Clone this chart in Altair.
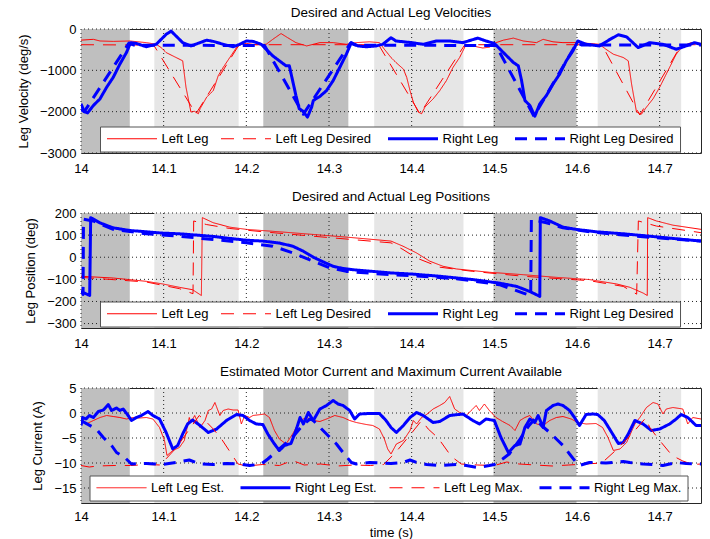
import altair as alt
import pandas as pd

FONT = "Liberation Sans"

# ---------------- axes / bands ----------------
X_TICKS = [14.0, 14.1, 14.2, 14.3, 14.4, 14.5, 14.6, 14.7]
VEL_TICKS = [-3000, -2000, -1000, 0]
POS_TICKS = [-300, -200, -100, 0, 100, 200]
CUR_TICKS = [-15, -10, -5, 0, 5]

BAND_START = [14.0, 14.0887, 14.2205, 14.3547, 14.499, 14.625]
BAND_END = [14.059, 14.1907, 14.3234, 14.4627, 14.5994, 14.726]
BAND_KIND = ["dark", "light", "dark", "light", "dark", "light"]

# ---------------- panel 1: velocities (deg/s) ----------------
VEL_LEFT = [(14.000, -270), (14.015, -250), (14.023, -290), (14.039, -300), (14.059, -290), (14.079, -330),
            (14.091, -370), (14.097, -450), (14.103, -570), (14.115, -690), (14.123, -770), (14.125, -1090),
            (14.127, -1410), (14.133, -2010), (14.137, -1990), (14.142, -2050), (14.144, -1930), (14.152, -1650),
            (14.160, -1490), (14.166, -1130), (14.172, -930), (14.180, -690), (14.188, -450), (14.194, -370),
            (14.200, -350), (14.212, -380), (14.224, -370), (14.232, -250), (14.242, -110), (14.250, -210),
            (14.260, -330), (14.273, -410), (14.289, -330), (14.305, -330), (14.321, -370), (14.333, -330),
            (14.349, -310), (14.361, -330), (14.367, -490), (14.375, -690), (14.381, -810), (14.390, -970),
            (14.394, -1170), (14.398, -1490), (14.402, -1770), (14.408, -2010), (14.412, -2050), (14.416, -1890),
            (14.426, -1690), (14.434, -1490), (14.442, -1250), (14.450, -930), (14.458, -690), (14.466, -370),
            (14.474, -410), (14.486, -460), (14.494, -440), (14.502, -330), (14.511, -270), (14.523, -220),
            (14.535, -290), (14.551, -330), (14.559, -250), (14.571, -310), (14.583, -330), (14.599, -330),
            (14.615, -350), (14.627, -370), (14.635, -490), (14.644, -610), (14.656, -690), (14.662, -770),
            (14.666, -1330), (14.672, -2010), (14.678, -2060), (14.684, -1890), (14.692, -1690), (14.700, -1410),
            (14.706, -1170), (14.712, -930), (14.720, -610), (14.728, -410), (14.738, -330), (14.750, -350)]
VEL_LEFT_DES = [(14.000, -380), (14.088, -390), (14.139, -2050), (14.191, -390), (14.197, -380),
                (14.360, -380), (14.410, -2050), (14.464, -390), (14.470, -380), (14.630, -380),
                (14.676, -2080), (14.726, -390), (14.732, -380), (14.750, -380)]
VEL_RIGHT = [(14.000, -1810), (14.004, -2000), (14.008, -2030), (14.015, -1850), (14.023, -1690), (14.031, -1410),
             (14.039, -1170), (14.047, -850), (14.055, -570), (14.060, -330), (14.067, -350), (14.079, -430),
             (14.091, -370), (14.097, -250), (14.103, -130), (14.109, -50), (14.115, -170), (14.123, -330),
             (14.133, -410), (14.144, -330), (14.152, -270), (14.160, -300), (14.172, -370), (14.184, -430),
             (14.192, -370), (14.200, -290), (14.208, -300), (14.218, -370), (14.224, -490), (14.232, -650),
             (14.240, -770), (14.248, -890), (14.252, -890), (14.256, -1250), (14.260, -1610), (14.264, -1930),
             (14.268, -1980), (14.274, -2130), (14.279, -1890), (14.281, -1730), (14.289, -1630), (14.297, -1490),
             (14.305, -1250), (14.313, -930), (14.321, -610), (14.327, -330), (14.335, -410), (14.345, -430),
             (14.357, -410), (14.365, -370), (14.375, -210), (14.381, -290), (14.400, -330), (14.414, -370),
             (14.430, -290), (14.446, -290), (14.462, -330), (14.480, -220), (14.490, -290), (14.500, -350),
             (14.511, -570), (14.523, -810), (14.529, -890), (14.533, -1250), (14.537, -1730), (14.543, -1850),
             (14.549, -2110), (14.555, -1810), (14.563, -1610), (14.571, -1330), (14.579, -1090), (14.587, -770),
             (14.595, -530), (14.601, -290), (14.611, -370), (14.627, -410), (14.640, -250), (14.650, -140),
             (14.660, -190), (14.674, -450), (14.688, -330), (14.704, -370), (14.720, -490), (14.732, -410),
             (14.742, -330), (14.750, -370)]
VEL_RIGHT_DES = [(14.000, -1950), (14.004, -2000), (14.058, -340), (14.064, -390), (14.222, -400),
                 (14.269, -2060), (14.326, -340), (14.332, -390), (14.502, -400), (14.548, -2110),
                 (14.600, -330), (14.606, -390), (14.750, -390)]

# ---------------- panel 2: positions (deg) ----------------
POS_LEFT = [(14.000, -86), (14.039, -94), (14.079, -109), (14.099, -121), (14.119, -136), (14.135, -147),
            (14.1456, -173), (14.1468, 179), (14.160, 156), (14.180, 136), (14.200, 126), (14.240, 115),
            (14.281, 103), (14.321, 91), (14.375, 73), (14.3895, 50), (14.4056, 20), (14.422, -18),
            (14.438, -41), (14.454, -53), (14.494, -68), (14.535, -79), (14.575, -91), (14.615, -101),
            (14.648, -121), (14.664, -136), (14.680, -162), (14.685, -173), (14.6855, 179), (14.696, 164),
            (14.716, 145), (14.750, 126)]
POS_LEFT_DES = [(14.000, -91), (14.079, -112), (14.119, -142), (14.1355, -165), (14.1363, 164),
                (14.1516, 148), (14.180, 130), (14.220, 115), (14.281, 95), (14.375, 65), (14.3895, 35),
                (14.4056, -3), (14.434, -45), (14.474, -64), (14.535, -86), (14.615, -106), (14.656, -132),
                (14.6722, -167), (14.6742, 164), (14.696, 141), (14.750, 111)]
POS_RIGHT = [(14.000, -155), (14.0105, -173), (14.0117, 179), (14.0226, 156), (14.0387, 133), (14.0589, 121),
             (14.079, 115), (14.099, 109), (14.119, 106), (14.140, 100), (14.160, 94), (14.180, 85),
             (14.200, 77), (14.220, 73), (14.240, 64), (14.256, 50), (14.269, 27), (14.281, 0),
             (14.293, -21), (14.305, -41), (14.317, -51), (14.333, -58), (14.353, -64), (14.375, -71),
             (14.400, -76), (14.434, -86), (14.474, -101), (14.506, -117), (14.527, -132), (14.543, -155),
             (14.555, -177), (14.5556, 179), (14.567, 164), (14.583, 136), (14.599, 126), (14.623, 115),
             (14.656, 106), (14.688, 95), (14.716, 85), (14.750, 73)]
POS_RIGHT_DES = [(14.000, -150), (14.0025, -168), (14.003, 172), (14.0145, 164), (14.039, 126),
                 (14.079, 106), (14.119, 95), (14.160, 80), (14.200, 65), (14.232, 50), (14.256, 20),
                 (14.281, -18), (14.301, -48), (14.321, -64), (14.375, -79), (14.400, -83), (14.454, -97),
                 (14.506, -124), (14.535, -162), (14.544, -173), (14.5448, 171), (14.563, 156),
                 (14.583, 133), (14.615, 115), (14.656, 100), (14.696, 88), (14.750, 73)]

# ---------------- panel 3: currents (A) ----------------
CUR_LEFT_EST = [(14.000, -1.5), (14.006, -2.2), (14.015, -1.5), (14.023, -0.9), (14.031, -0.5), (14.039, -0.7),
                (14.047, -0.9), (14.055, -1.2), (14.063, -0.9), (14.071, -1.0), (14.079, -0.9), (14.087, -1.2),
                (14.095, -2.9), (14.101, -5.5), (14.104, -8.5), (14.111, -7.5), (14.119, -6.9), (14.125, -5.5),
                (14.131, -0.9), (14.133, -1.9), (14.1375, -0.5), (14.144, -2.9), (14.150, -1.5), (14.154, 0.5),
                (14.158, 0.8), (14.162, 2.1), (14.1645, 1.0), (14.168, -0.5), (14.172, 0.5), (14.178, 0.8),
                (14.184, 0.6), (14.190, 0.6), (14.194, -2.2), (14.198, -0.5), (14.204, -0.9), (14.208, -0.5),
                (14.218, -0.3), (14.222, -0.2), (14.228, -0.9), (14.234, -3.5), (14.240, -5.2), (14.248, -6.2),
                (14.256, -4.2), (14.265, -1.5), (14.273, -0.9), (14.281, -1.5), (14.289, -1.7), (14.297, -1.2),
                (14.307, -0.5), (14.317, -0.9), (14.325, -1.5), (14.333, -1.9), (14.345, -2.3), (14.353, -2.5),
                (14.361, -3.2), (14.367, -5.2), (14.371, -7.2), (14.375, -8.2), (14.3815, -6.2), (14.390, -5.5),
                (14.398, -3.5), (14.402, -1.5), (14.406, -2.2), (14.412, -0.9), (14.418, -0.3), (14.426, 0.8),
                (14.434, 1.5), (14.440, 2.1), (14.446, 3.3), (14.452, 0.8), (14.458, 0.1), (14.466, -0.5),
                (14.472, 0.5), (14.478, 1.5), (14.482, 0.5), (14.488, 1.8), (14.494, 0.5), (14.502, -0.9),
                (14.510, -1.7), (14.519, -2.5), (14.525, -3.5), (14.531, -1.5), (14.537, -0.9), (14.543, -0.5),
                (14.551, -2.2), (14.559, -2.5), (14.567, -1.5), (14.575, -0.9), (14.583, -0.7), (14.593, -1.2),
                (14.601, -1.9), (14.611, -2.2), (14.623, -2.1), (14.631, -2.9), (14.6375, -4.9), (14.644, -7.5),
                (14.652, -7.2), (14.660, -5.9), (14.670, -2.2), (14.676, -0.9), (14.684, 1.1), (14.692, 2.1),
                (14.698, 1.8), (14.704, -0.2), (14.708, 0.8), (14.716, 1.1), (14.728, 0.8), (14.734, -2.2),
                (14.740, -0.9), (14.750, -1.2)]
CUR_RIGHT_EST = [(14.000, -2.5), (14.002, -0.9), (14.006, -1.2), (14.010, -0.5), (14.015, -0.9), (14.021, 0.3),
                 (14.027, 0.6), (14.033, 1.7), (14.037, 0.5), (14.043, 1.0), (14.047, 0.5), (14.051, 0.8),
                 (14.057, -0.5), (14.061, -1.5), (14.067, -0.9), (14.073, -0.5), (14.081, 0.3), (14.087, -0.5),
                 (14.095, -1.2), (14.103, -3.9), (14.111, -7.2), (14.117, -6.5), (14.123, -4.2), (14.129, -2.2),
                 (14.135, -1.4), (14.144, -2.5), (14.154, -3.9), (14.164, -3.2), (14.176, -1.5), (14.188, -0.3),
                 (14.196, -0.5), (14.204, -1.5), (14.212, -2.2), (14.220, -2.3), (14.226, -4.2), (14.234, -6.2),
                 (14.240, -7.5), (14.246, -6.5), (14.254, -6.1), (14.260, -3.5), (14.265, -0.9), (14.269, -2.2),
                 (14.275, 0.1), (14.281, -1.5), (14.289, 0.8), (14.297, 1.5), (14.305, 2.5), (14.311, 1.8),
                 (14.317, 1.5), (14.325, 0.5), (14.331, -1.2), (14.337, -0.2), (14.349, -0.1), (14.361, -0.1),
                 (14.369, -1.5), (14.375, -2.9), (14.3815, -3.9), (14.390, -2.5), (14.398, -0.9), (14.406, 0.1),
                 (14.414, -0.5), (14.426, -1.9), (14.434, -1.7), (14.446, -0.5), (14.462, -0.2), (14.474, -1.5),
                 (14.482, -2.2), (14.490, -1.2), (14.500, -1.5), (14.508, -4.9), (14.517, -7.9), (14.525, -6.5),
                 (14.531, -6.2), (14.537, -2.9), (14.543, -1.2), (14.549, -1.9), (14.553, -0.5), (14.559, -2.9),
                 (14.563, 0.5), (14.571, 1.5), (14.577, 1.8), (14.583, 1.5), (14.591, 0.5), (14.597, -0.9),
                 (14.603, -2.5), (14.611, -0.3), (14.619, -0.2), (14.625, -0.3), (14.633, -1.5), (14.642, -3.9),
                 (14.650, -6.1), (14.656, -5.9), (14.662, -4.2), (14.670, -1.5), (14.680, -2.2), (14.690, -3.5),
                 (14.700, -3.2), (14.712, -2.2), (14.720, -1.2), (14.726, -0.3), (14.734, -0.9), (14.744, -2.5),
                 (14.750, -2.5)]
CUR_LEFT_MAX = [(14.000, -10.5), (14.010, -10.8), (14.020, -10.6), (14.040, -10.5), (14.060, -10.5),
                (14.080, -10.3), (14.096, -10.4), (14.115, -7.0), (14.130, -3.5), (14.143, -0.5),
                (14.150, -1.5), (14.160, -3.2), (14.170, -5.2), (14.182, -8.2), (14.190, -10.2),
                (14.200, -10.6), (14.220, -10.3), (14.240, -10.5), (14.256, -9.5), (14.270, -10.4),
                (14.290, -10.2), (14.310, -10.6), (14.330, -10.4), (14.350, -10.5), (14.366, -10.3),
                (14.380, -8.0), (14.400, -4.0), (14.412, -1.5), (14.420, -3.2), (14.432, -5.0),
                (14.448, -8.7), (14.460, -10.2), (14.480, -10.4), (14.500, -10.5), (14.515, -9.8),
                (14.530, -10.2), (14.550, -10.4), (14.570, -10.6), (14.590, -10.4), (14.610, -10.2),
                (14.630, -10.0), (14.650, -7.0), (14.670, -3.5), (14.683, -1.0), (14.688, -2.9),
                (14.700, -5.5), (14.715, -8.5), (14.728, -9.6), (14.740, -10.3), (14.750, -10.2)]
CUR_RIGHT_MAX = [(14.000, -1.5), (14.0185, -3.2), (14.027, -4.9), (14.037, -6.5), (14.043, -7.9),
                 (14.053, -8.9), (14.061, -10.2), (14.079, -10.1), (14.099, -10.3), (14.115, -9.9),
                 (14.131, -9.4), (14.144, -10.2), (14.160, -10.3), (14.176, -10.1), (14.192, -10.2),
                 (14.204, -10.5), (14.218, -10.2), (14.226, -9.2), (14.240, -7.2), (14.255, -5.0),
                 (14.268, -2.5), (14.277, -1.2), (14.281, -1.5), (14.297, -4.2), (14.309, -6.2),
                 (14.317, -7.9), (14.327, -9.9), (14.333, -10.2), (14.349, -9.9), (14.375, -10.1),
                 (14.3895, -9.9), (14.398, -9.4), (14.406, -9.9), (14.418, -10.3), (14.434, -10.5),
                 (14.454, -10.3), (14.466, -10.5), (14.480, -10.9), (14.494, -10.5), (14.500, -10.3),
                 (14.510, -9.2), (14.518, -8.2), (14.530, -5.5), (14.542, -2.5), (14.550, -1.0),
                 (14.557, -2.5), (14.567, -3.9), (14.575, -5.2), (14.583, -6.5), (14.591, -8.2),
                 (14.599, -9.9), (14.603, -10.5), (14.615, -9.9), (14.635, -10.0), (14.656, -9.7),
                 (14.664, -9.9), (14.680, -10.2), (14.692, -10.3), (14.704, -10.5), (14.720, -9.9),
                 (14.732, -10.1), (14.750, -10.2)]

RED = "#ff0000"
BLUE = "#0000ff"
RED_DASH = [13, 9]
BLUE_DASH = [12, 8]
SOLID = [1, 0]

X_DOMAIN = [14.0, 14.75]
PLOT_W = 620


def make_panel(title, ytitle, ydom, yticks, series, legend_xy, height, xtitle, xlabel_pad):
    names = [s[0] for s in series]
    colors = [s[2] for s in series]
    dashes = [s[3] for s in series]
    widths = [s[4] for s in series]
    xs = alt.Scale(domain=X_DOMAIN, nice=False, zero=False)
    ys = alt.Scale(domain=ydom, nice=False, zero=False)

    xaxis = alt.Axis(values=X_TICKS, format="~g", grid=False, ticks=False, tickSize=0, domain=False,
                     labelPadding=xlabel_pad, labelFlush=False, labelOverlap=False,
                     title=xtitle, titlePadding=3)
    yaxis = alt.Axis(values=yticks, format="d", grid=False, ticks=False, tickSize=0, domain=False,
                     labelPadding=5, labelFlush=False, labelOverlap=False, title=ytitle, titlePadding=9)

    def X(field):
        return alt.X(field, scale=xs, axis=xaxis, title=xtitle)

    def Y(field):
        return alt.Y(field, scale=ys, axis=yaxis, title=ytitle)

    bands_df = pd.DataFrame({"start": BAND_START, "end": BAND_END, "kind": BAND_KIND,
                             "ylo": [ydom[0]] * len(BAND_START), "yhi": [ydom[1]] * len(BAND_START)})
    bands = alt.Chart(bands_df).mark_rect().encode(
        x=X("start:Q"),
        x2="end:Q",
        y=Y("ylo:Q"),
        y2="yhi:Q",
        fill=alt.Fill("kind:N", scale=alt.Scale(domain=["dark", "light"], range=["#bfbfbf", "#e6e6e6"]),
                      legend=None),
    )
    vgrid = alt.Chart(pd.DataFrame({"t": X_TICKS})).mark_rule(
        color="#222222", strokeWidth=1, strokeDash=[1, 3]).encode(x=X("t:Q"))
    hgrid = alt.Chart(pd.DataFrame({"v": yticks})).mark_rule(
        color="#222222", strokeWidth=1, strokeDash=[1, 3]).encode(y=Y("v:Q"))

    # line symbol (50px) that starts at the left of its entry, row stays 13px tall
    leg = alt.Legend(orient="none", legendX=legend_xy[0], legendY=legend_xy[1], direction="horizontal",
                     title=None, fillColor="white", strokeColor="#555555", padding=5.5,
                     symbolType="M-1,0H9", symbolSize=100,
                     labelFontSize=13, labelFont=FONT, labelColor="black",
                     columnPadding=10, labelOffset=43, labelLimit=0, zindex=2, cornerRadius=0)
    layers = [bands, vgrid, hgrid]
    for name, pairs, col, dash, w in series:
        df = pd.DataFrame({"t": [p[0] for p in pairs], "v": [p[1] for p in pairs], "series": name})
        layers.append(alt.Chart(df).mark_line(clip=True, strokeJoin="round").encode(
            x=X("t:Q"),
            y=Y("v:Q"),
            color=alt.Color("series:N", scale=alt.Scale(domain=names, range=colors), legend=leg),
            strokeDash=alt.StrokeDash("series:N", scale=alt.Scale(domain=names, range=dashes), legend=leg),
            strokeWidth=alt.StrokeWidth("series:N", scale=alt.Scale(type="ordinal", domain=names, range=widths),
                                        legend=leg),
        ))
    return alt.layer(*layers).properties(
        width=PLOT_W, height=height,
        title=alt.TitleParams(title, frame="group", anchor="middle", offset=4))


p1 = make_panel("Desired and Actual Leg Velocities", "Leg Velocity (deg/s)", [-3000, 0], VEL_TICKS,
                [("Left Leg", VEL_LEFT, RED, SOLID, 1), ("Left Leg Desired", VEL_LEFT_DES, RED, RED_DASH, 1),
                 ("Right Leg", VEL_RIGHT, BLUE, SOLID, 3),
                 ("Right Leg Desired", VEL_RIGHT_DES, BLUE, BLUE_DASH, 3)],
                (19, 97.5), 124, None, 9)
p2 = make_panel("Desired and Actual Leg Positions", "Leg Position (deg)", [-320, 200], POS_TICKS,
                [("Left Leg", POS_LEFT, RED, SOLID, 1), ("Left Leg Desired", POS_LEFT_DES, RED, RED_DASH, 1),
                 ("Right Leg", POS_RIGHT, BLUE, SOLID, 3),
                 ("Right Leg Desired", POS_RIGHT_DES, BLUE, BLUE_DASH, 3)],
                (19, 88.5), 115, None, 9)
p3 = make_panel("Estimated Motor Current and Maximum Current Available", "Leg Current (A)", [-18, 5],
                CUR_TICKS,
                [("Left Leg Est.", CUR_LEFT_EST, RED, SOLID, 1), ("Right Leg Est.", CUR_RIGHT_EST, BLUE, SOLID, 3),
                 ("Left Leg Max.", CUR_LEFT_MAX, RED, RED_DASH, 1),
                 ("Right Leg Max.", CUR_RIGHT_MAX, BLUE, BLUE_DASH, 3)],
                (8.5, 87.5), 115, "time (s)", 7)

chart = alt.vconcat(p1, p2, p3, spacing=60, bounds="flush").resolve_scale(
    color="independent", strokeDash="independent", strokeWidth="independent", fill="independent"
).properties(
    padding={"left": 16, "top": 5, "right": 5, "bottom": 2}
).configure(font=FONT).configure_view(
    stroke="#262626", strokeWidth=1
).configure_axis(
    labelFont=FONT, titleFont=FONT, labelColor="black", titleColor="black",
    labelFontSize=13, titleFontSize=13, titleFontWeight="normal"
).configure_title(
    font=FONT, fontSize=13.5, fontWeight="normal", color="black"
)

chart.save("out.html", embed_options={"renderer": "svg", "actions": False})
